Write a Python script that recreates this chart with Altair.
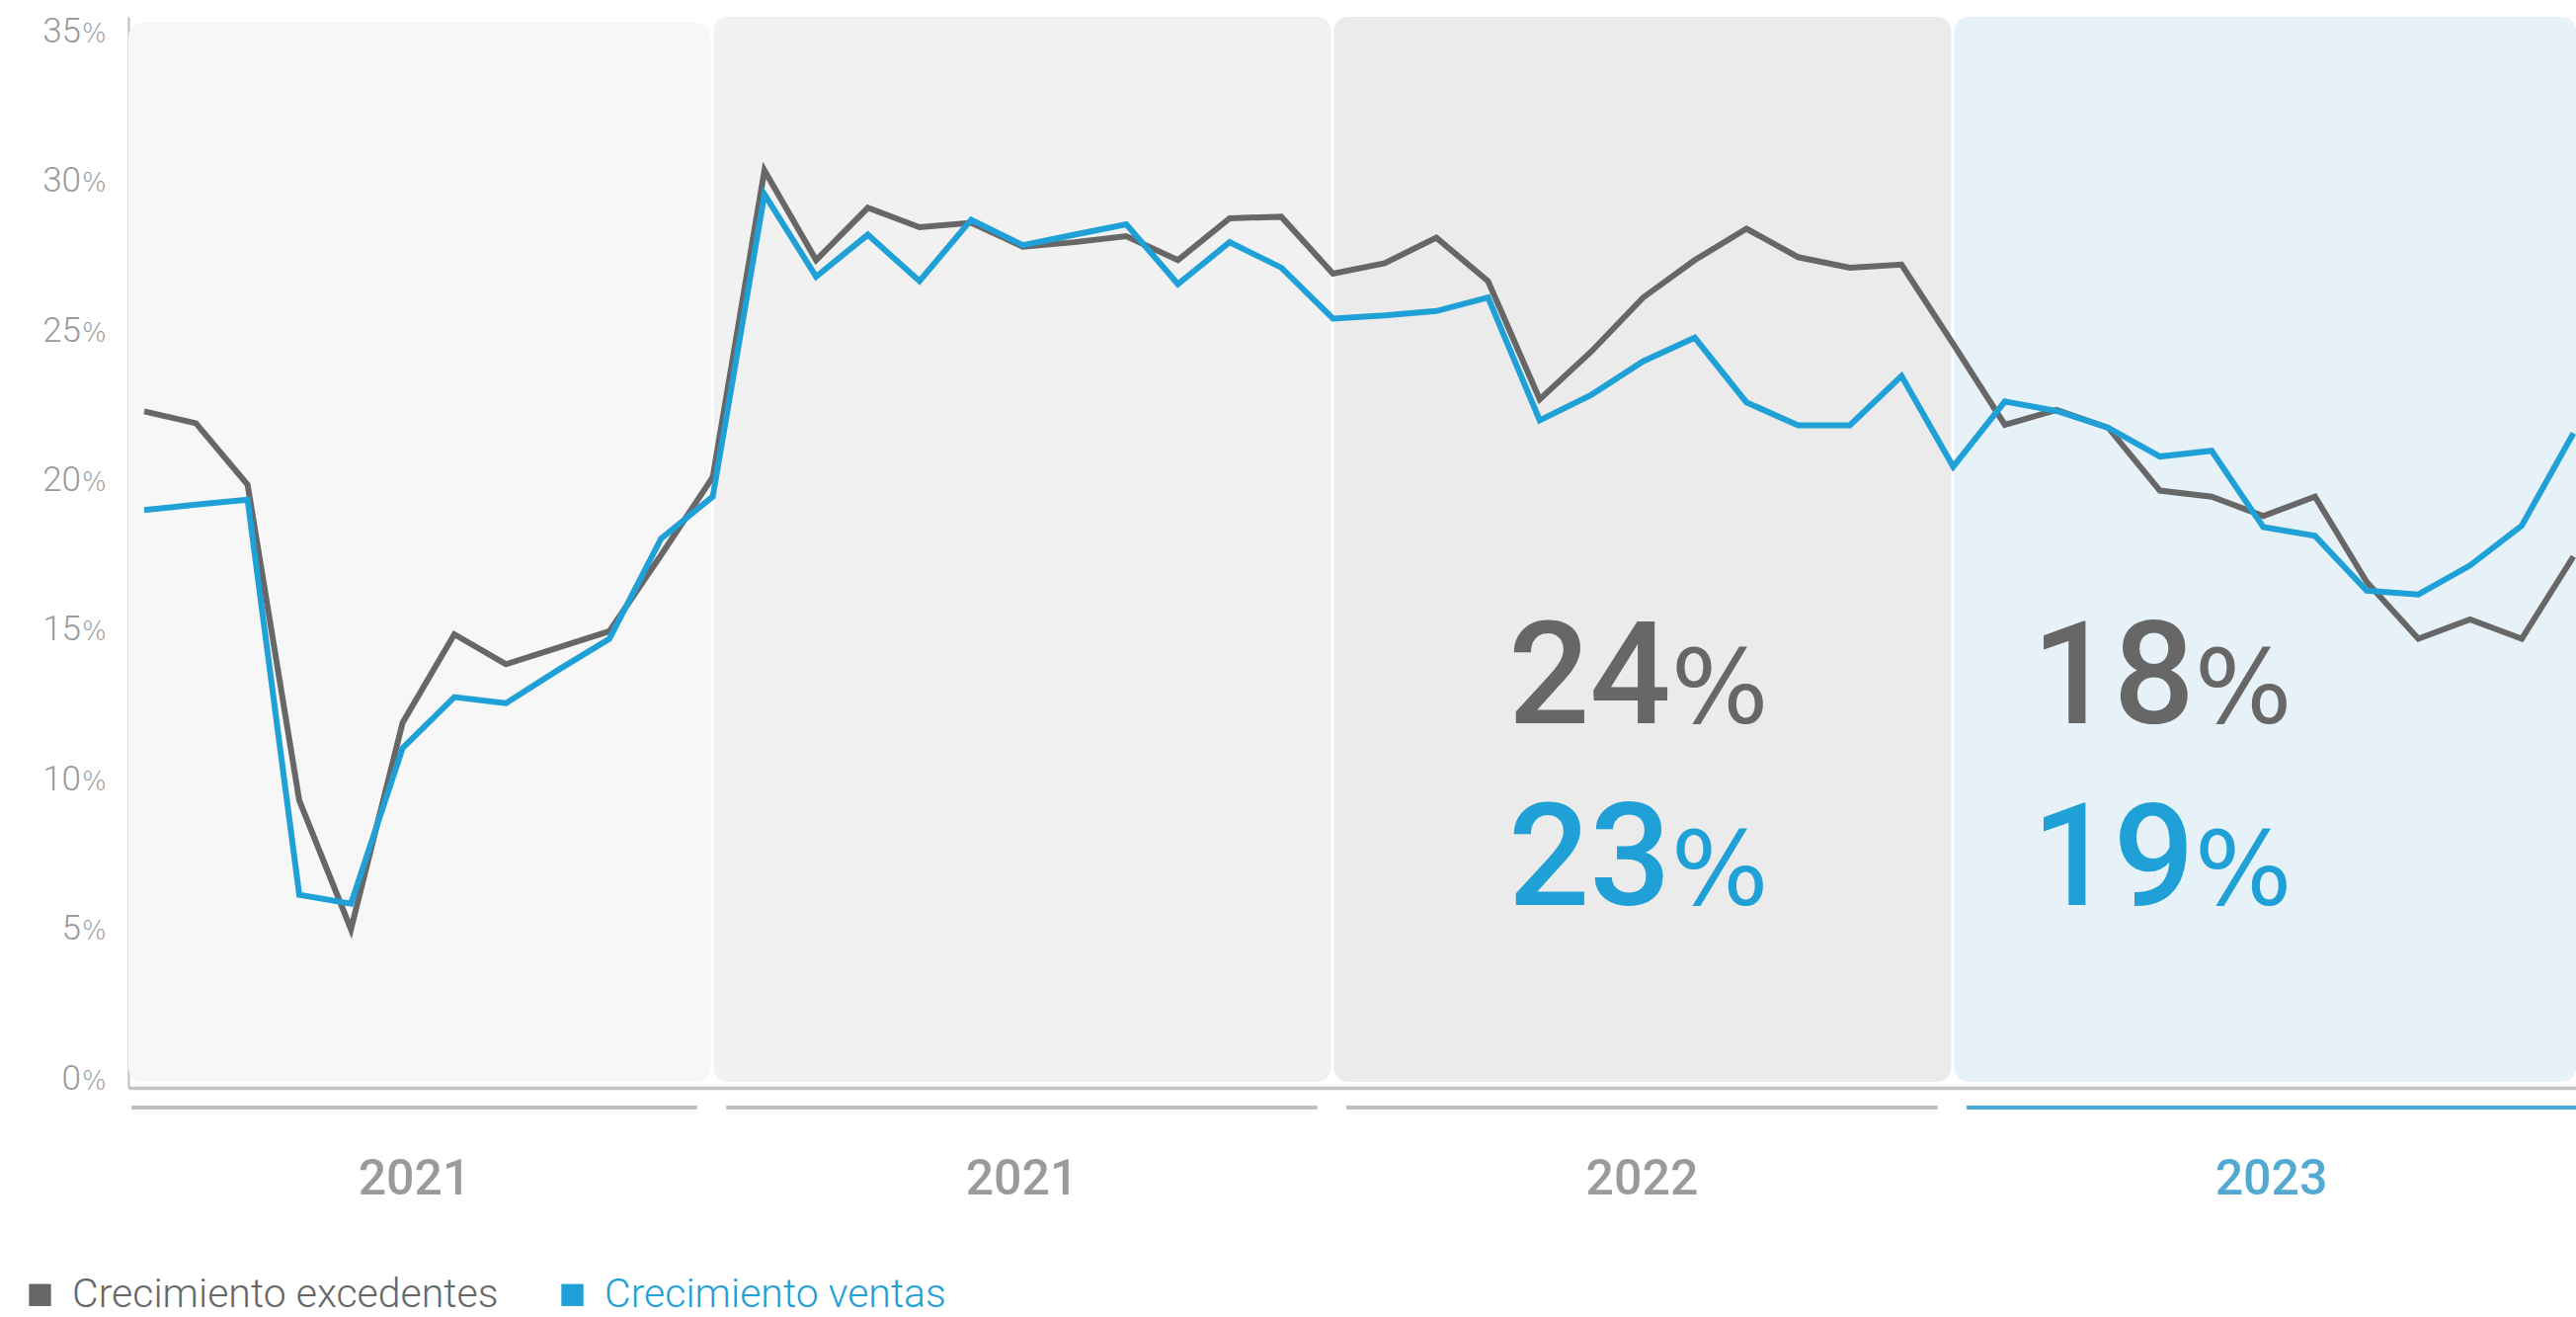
import altair as alt
import pandas as pd

# Monthly year-on-year growth (%), four yearly blocks of 12 months
serie_nombres = ["Crecimiento excedentes", "Crecimiento ventas"]

excedentes = [
    22.4, 22.0, 19.95, 9.4, 5.1, 12.0, 14.95, 13.95, 14.5, 15.05, 17.6, 20.2,
    30.45, 27.45, 29.2, 28.55, 28.7, 27.9, 28.05, 28.25, 27.45, 28.85, 28.9, 27.0,
    27.35, 28.2, 26.75, 22.8, 24.4, 26.2, 27.45, 28.5, 27.55, 27.2, 27.3, 24.65,
    21.95, 22.45, 21.85, 19.75, 19.55, 18.9, 19.55, 16.7, 14.8, 15.45, 14.8, 17.55,
]
ventas = [
    19.1, 19.28, 19.45, 6.25, 5.95, 11.15, 12.85, 12.65, 13.75, 14.8, 18.15, 19.55,
    29.65, 26.9, 28.3, 26.75, 28.8, 27.95, 28.3, 28.65, 26.65, 28.05, 27.2, 25.5,
    25.6, 25.75, 26.2, 22.1, 22.95, 24.07, 24.86, 22.7, 21.93, 21.93, 23.58, 20.55,
    22.73, 22.41, 21.85, 20.89, 21.08, 18.53, 18.24, 16.41, 16.28, 17.25, 18.58, 21.67,
]

anios = ["2021", "2021", "2022", "2023"]
fondos = ["#f7f7f7", "#f1f1f1", "#ebebeb", "#e7f2f8"]
colores_anio = ["#9a9a9a", "#9a9a9a", "#9a9a9a", "#52aad3"]
colores_raya = ["#bfbfbf", "#bfbfbf", "#bfbfbf", "#44abda"]

valores_eje = [0, 5, 10, 15, 20, 25, 30, 35]

destacados_anio = ["2022", "2023"]
destacado_excedentes = ["24", "18"]
destacado_ventas = ["23", "19"]

GRIS = "#676767"
AZUL = "#1fa0d6"
TEXTO_EJE = "#9a9a9a"
FUENTE_PCT = "DejaVu Sans"

ANCHO, ALTO = 2478, 1084
X_MIN, X_MAX = -0.306, 47.05
Y_MIN, Y_MAX = -0.2, 35.58
MESES = 12

escala_x = alt.Scale(domain=[X_MIN, X_MAX], nice=False, zero=False)
escala_y = alt.Scale(domain=[Y_MIN, Y_MAX], nice=False, zero=False)
eje_x = alt.Axis(title=None, labels=False, ticks=False, grid=False,
                 domainColor="#c2c2c2", domainWidth=3.5)
eje_y = alt.Axis(title=None, labels=False, ticks=False, grid=False,
                 domainColor="#bdbdbd", domainWidth=2)

n = len(excedentes)
lineas = pd.DataFrame({
    "mes": list(range(n)) * 2,
    "valor": excedentes + ventas,
    "serie": [serie_nombres[0]] * n + [serie_nombres[1]] * n,
})

# One shaded block and one underline per year
ult = len(anios) - 1
idx = range(len(anios))
bandas = pd.DataFrame({
    "anio": anios,
    "ini": [max(MESES * i - 0.98, X_MIN) for i in idx],
    "fin": [MESES * i + 10.96 if i < ult else X_MAX for i in idx],
    "suelo": [0.0] * len(anios),
    "techo": [Y_MAX - 0.2 if i == 0 else Y_MAX for i in idx],
    "fondo": fondos,
    "raya_ini": [max(MESES * i - 0.74, X_MIN + 0.06) for i in idx],
    "raya_fin": [MESES * i + 10.7 if i < ult else X_MAX for i in idx],
    "color_anio": colores_anio,
    "color_raya": colores_raya,
})
bandas["centro"] = (bandas["raya_ini"] + bandas["raya_fin"]) / 2

X = lambda campo: alt.X(campo, scale=escala_x, axis=eje_x)
Y = lambda campo: alt.Y(campo, scale=escala_y, axis=eje_y)

fondo = alt.Chart(bandas).mark_rect(cornerRadius=14).encode(
    x=X("ini:Q"), x2="fin:Q", y=Y("suelo:Q"), y2="techo:Q",
    color=alt.Color("fondo:N", scale=None),
)

raya = alt.Chart(bandas).mark_rule(strokeWidth=4).encode(
    x=X("raya_ini:Q"), x2="raya_fin:Q", y=alt.value(ALTO + 20),
    color=alt.Color("color_raya:N", scale=None),
)

etiqueta_anio = alt.Chart(bandas).mark_text(
    fontSize=50, fontWeight=500, baseline="middle"
).encode(
    x=X("centro:Q"), y=alt.value(ALTO + 93), text="anio:N",
    color=alt.Color("color_anio:N", scale=None),
)

linea_exc = alt.Chart(lineas).transform_filter(
    alt.datum.serie == serie_nombres[0]
).mark_line(color=GRIS, strokeWidth=6).encode(x=X("mes:Q"), y=Y("valor:Q"))

linea_ven = alt.Chart(lineas).transform_filter(
    alt.datum.serie == serie_nombres[1]
).mark_line(color=AZUL, strokeWidth=6).encode(x=X("mes:Q"), y=Y("valor:Q"))

leyenda = alt.Chart(lineas).transform_filter(alt.datum.mes == 0).mark_square(
    size=484, opacity=0
).encode(
    x=X("mes:Q"), y=Y("valor:Q"),
    color=alt.Color(
        "serie:N",
        scale=alt.Scale(domain=serie_nombres, range=[GRIS, AZUL]),
        legend=alt.Legend(
            orient="none", legendX=-110, legendY=ALTO + 189,
            direction="horizontal", title=None,
            symbolType="square", symbolSize=500, symbolOpacity=1,
            symbolStrokeWidth=0,
            labelFont="Roboto", labelFontSize=41, labelFontWeight=300,
            labelColor=alt.ExprRef(
                expr=f"datum.value == '{serie_nombres[1]}' ? '{AZUL}' : '{GRIS}'"
            ),
            labelOffset=12, columnPadding=54, padding=0, labelLimit=0,
        ),
    ),
)

# y-axis labels: number and a smaller percent sign
ticks = pd.DataFrame({"v": valores_eje, "txt": [str(v) for v in valores_eje]})
num_eje = alt.Chart(ticks).mark_text(
    align="right", baseline="alphabetic", dy=8, fontSize=35, fontWeight=300,
    color=TEXTO_EJE,
).encode(x=alt.value(-48), y=Y("v:Q"), text="txt:N")
pct_eje = alt.Chart(ticks).mark_text(
    align="left", baseline="alphabetic", dy=8, fontSize=26, font=FUENTE_PCT,
    fontWeight=300, color=TEXTO_EJE, text="%",
).encode(x=alt.value(-47), y=Y("v:Q"))

# Highlighted yearly figures
res = pd.DataFrame({
    "anio": destacados_anio,
    "exc": destacado_excedentes,
    "ven": destacado_ventas,
})
res["x"] = [bandas["ini"][2] + 6.52, bandas["ini"][3] + 4.65]
res["y_exc"] = 11.98
res["y_ven"] = 5.9


def cifra(campo, y_campo, color):
    dig = alt.Chart(res).mark_text(
        align="right", baseline="alphabetic", fontSize=145, fontWeight=500,
        color=color,
    ).encode(x=X("x:Q"), y=Y(y_campo), text=f"{campo}:N")
    pct = alt.Chart(res).mark_text(
        align="left", baseline="alphabetic", fontSize=104, font=FUENTE_PCT,
        color=color, text="%",
    ).encode(x=X("x:Q"), y=Y(y_campo))
    return dig + pct


chart = alt.layer(
    fondo, raya, etiqueta_anio, linea_exc, linea_ven, leyenda,
    num_eje, pct_eje,
    cifra("exc", "y_exc:Q", GRIS), cifra("ven", "y_ven:Q", AZUL),
).properties(
    width=ANCHO, height=ALTO,
    padding={"left": 130, "top": 17, "right": 0, "bottom": 232},
    autosize=alt.AutoSizeParams(type="none"),
).configure(font="Roboto", background="white").configure_view(strokeWidth=0)

chart.save("out.html", embed_options={"renderer": "svg", "actions": False})
